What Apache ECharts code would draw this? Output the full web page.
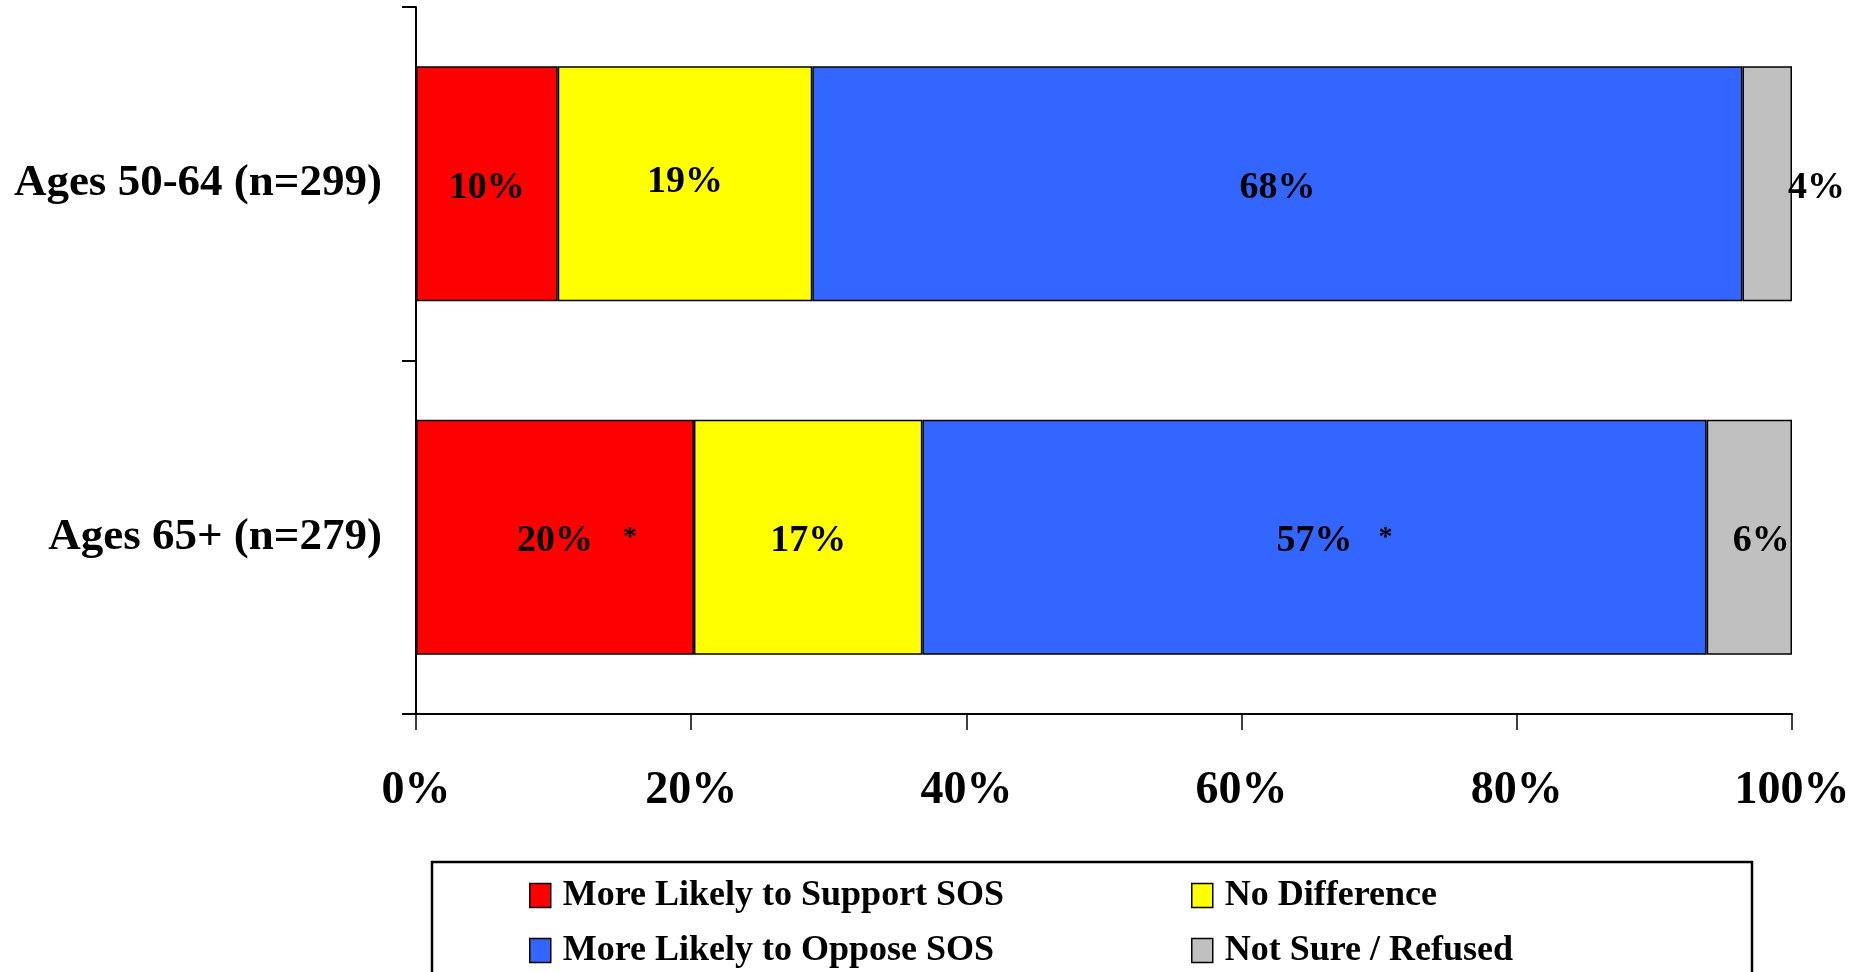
<!DOCTYPE html>
<html>
<head>
<meta charset="utf-8">
<script src="https://cdn.jsdelivr.net/npm/echarts@6/dist/echarts.min.js"></script>
<style>
html,body{margin:0;padding:0;background:#fff;}
#chart{width:1869px;height:972px;}
</style>
</head>
<body>
<div id="chart"></div>
<script>
// ---- data ----
const categories = ['Ages 50-64 (n=299)', 'Ages 65+ (n=279)'];
const seriesNames = ['More Likely to Support SOS', 'No Difference', 'More Likely to Oppose SOS', 'Not Sure / Refused'];
const supportVals = [10.3, 20.2];
const noDiffVals = [18.5, 16.6];
const opposeVals = [67.6, 57.0];
const notSureVals = [3.6, 6.2];
const supportLabels = ['10%', '20%'];
const noDiffLabels = ['19%', '17%'];
const opposeLabels = ['68%', '57%'];
const notSureLabels = ['4%', '6%'];
const supportMarks = ['', '*'];
const noDiffMarks = ['', ''];
const opposeMarks = ['', '*'];
const notSureMarks = ['', ''];
const xTickValues = [0, 20, 40, 60, 80, 100];
const xTickLabels = ['0%', '20%', '40%', '60%', '80%', '100%'];

// ---- styling ----
const FONT = '"Liberation Serif", "Times New Roman", serif';
const colors = ['#FF0000', '#FFFF00', '#3366FF', '#C0C0C0'];
const allVals = [supportVals, noDiffVals, opposeVals, notSureVals];
const allLabels = [supportLabels, noDiffLabels, opposeLabels, notSureLabels];
const allMarks = [supportMarks, noDiffMarks, opposeMarks, notSureMarks];
const labelOverrides = {
  '1-0': { offset: [0, -2] },
  '3-0': { position: 'right', distance: -4, offset: [0, 4] },
  '3-1': { offset: [12, 4] }
};
const markGap = [30, 26];

const series = seriesNames.map((name, si) => ({
  name: name,
  type: 'bar',
  stack: 'total',
  barCategoryGap: '33.5%',
  itemStyle: { color: colors[si], borderColor: '#000', borderWidth: 1.5 },
  label: {
    show: true,
    position: 'inside',
    offset: [0, 4],
    color: '#000',
    fontFamily: FONT,
    fontWeight: 'bold',
    fontSize: 38,
    formatter: (p) => {
      const txt = allLabels[si][p.dataIndex];
      const mk = allMarks[si][p.dataIndex];
      if (mk) {
        const k = si === 0 ? '0' : '1';
        return '{h' + k + '|' + mk + '}{v|' + txt + '}{m' + k + '|' + mk + '}';
      }
      return '{v|' + txt + '}';
    },
    rich: {
      v: { fontFamily: FONT, fontWeight: 'bold', fontSize: 38, color: '#000' },
      m0: { fontFamily: FONT, fontWeight: 'bold', fontSize: 28, color: '#000', padding: [0, 0, 6, markGap[0]] },
      h0: { fontFamily: FONT, fontWeight: 'bold', fontSize: 28, color: 'rgba(0,0,0,0)', padding: [0, markGap[0], 6, 0] },
      m1: { fontFamily: FONT, fontWeight: 'bold', fontSize: 28, color: '#000', padding: [0, 0, 6, markGap[1]] },
      h1: { fontFamily: FONT, fontWeight: 'bold', fontSize: 28, color: 'rgba(0,0,0,0)', padding: [0, markGap[1], 6, 0] }
    }
  },
  data: allVals[si].map((v, ci) => {
    const o = { value: v };
    const ov = labelOverrides[si + '-' + ci];
    if (ov) o.label = ov;
    return o;
  })
}));

const legendText = { color: '#000', fontFamily: FONT, fontWeight: 'bold', fontSize: 36, lineHeight: 37, padding: [0, 0, 0, 7] };

const chart = echarts.init(document.getElementById('chart'), null, { renderer: 'canvas' });
chart.setOption({
  animation: false,
  backgroundColor: '#fff',
  grid: { left: 416, right: 77, top: 7, bottom: 258, containLabel: false },
  xAxis: {
    type: 'value',
    min: 0,
    max: 100,
    interval: 20,
    axisLine: { show: true, lineStyle: { color: '#000', width: 2 } },
    axisTick: { show: true, length: 16, lineStyle: { color: '#000', width: 1.5 } },
    splitLine: { show: false },
    axisLabel: {
      color: '#000',
      fontFamily: FONT,
      fontWeight: 'bold',
      fontSize: 46,
      margin: 54,
      formatter: (v) => xTickLabels[xTickValues.indexOf(v)]
    }
  },
  yAxis: {
    type: 'category',
    inverse: true,
    data: categories,
    axisLine: { show: true, lineStyle: { color: '#000', width: 2 } },
    axisTick: { show: true, length: 14, lineStyle: { color: '#000', width: 2 } },
    axisLabel: {
      color: '#000',
      fontFamily: FONT,
      fontWeight: 'bold',
      fontSize: 45,
      margin: 34,
      padding: [7, 0, 0, 0]
    }
  },
  legend: [
    {
      orient: 'vertical',
      left: 529,
      top: 877,
      padding: 0,
      itemGap: 18,
      itemWidth: 21,
      itemHeight: 24,
      icon: 'rect',
      data: [seriesNames[0], seriesNames[2]],
      itemStyle: { borderColor: '#000', borderWidth: 1.5 },
      textStyle: legendText
    },
    {
      orient: 'vertical',
      left: 1191,
      top: 877,
      padding: 0,
      itemGap: 18,
      itemWidth: 21,
      itemHeight: 24,
      icon: 'rect',
      data: [seriesNames[1], seriesNames[3]],
      itemStyle: { borderColor: '#000', borderWidth: 1.5 },
      textStyle: legendText
    }
  ],
  graphic: [
    {
      type: 'rect',
      shape: { x: 432, y: 862, width: 1320, height: 200 },
      style: { fill: 'none', stroke: '#000', lineWidth: 2.5 },
      silent: true
    }
  ],
  series: series
});
</script>
</body>
</html>
